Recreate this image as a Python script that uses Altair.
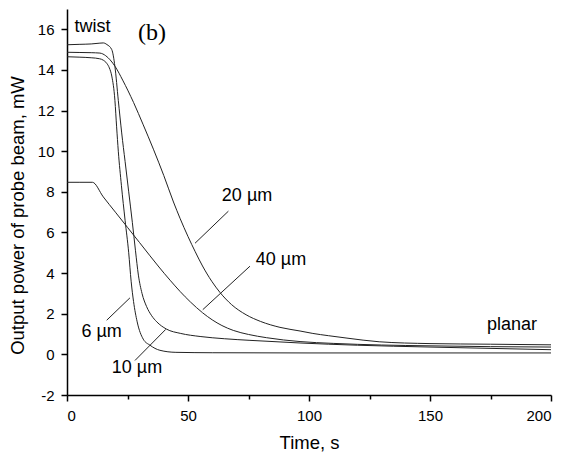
import altair as alt
import pandas as pd

# ---- data ----
t_6 = [0, 5, 10, 13.5, 15, 16.4, 17.5, 18.5, 19.8, 20.5, 21.2, 22.5, 24, 25.5, 26.5, 27.5, 29, 31.5, 34.3, 38.4, 45, 60, 100, 150, 200]
y_6 = [14.65, 14.63, 14.6, 14.55, 14.48, 14.33, 14.1, 13.7, 12.5, 11.2, 10.0, 8.3, 6.6, 5.0, 3.6, 2.6, 1.6, 0.75, 0.45, 0.2, 0.1, 0.08, 0.07, 0.07, 0.07]

t_10 = [0, 5, 10, 13.6, 15, 16.5, 18.5, 19.8, 21.2, 22.6, 24, 25.5, 27, 28.3, 29.5, 31, 32.9, 35, 37.1, 41, 47, 55, 65, 75.6, 96.3, 120, 150, 200]
y_10 = [15.24, 15.26, 15.28, 15.32, 15.33, 15.25, 15.0, 14.17, 12.5, 10.9, 9.5, 8.0, 6.5, 5.1, 3.9, 3.0, 2.35, 1.9, 1.6, 1.25, 1.03, 0.88, 0.77, 0.69, 0.56, 0.45, 0.36, 0.23]

t_20 = [0, 5, 10, 13.6, 16, 17.8, 20, 23, 27.5, 31.5, 35.7, 40, 44, 46.7, 50, 53, 56, 59.8, 63.2, 68, 74, 80, 88, 96.3, 101.6, 108, 115.7, 129, 150, 175, 200]
y_20 = [14.87, 14.86, 14.85, 14.83, 14.7, 14.5, 14.15, 13.5, 12.4, 11.3, 10.1, 8.8, 7.5, 6.7, 5.8, 5.05, 4.35, 3.6, 3.05, 2.45, 1.95, 1.62, 1.33, 1.15, 1.03, 0.92, 0.8, 0.62, 0.53, 0.5, 0.47]

t_40 = [0, 5, 10.5, 15, 20, 25, 30, 34.3, 38, 42.6, 46.7, 51, 56, 60, 64, 68.7, 75, 82.5, 96.3, 110, 130, 150, 175, 200]
y_40 = [8.47, 8.47, 8.47, 7.75, 7.0, 6.25, 5.5, 4.85, 4.3, 3.65, 3.1, 2.58, 2.05, 1.7, 1.42, 1.18, 0.98, 0.82, 0.63, 0.54, 0.46, 0.42, 0.38, 0.36]

series_names = ["6 µm", "10 µm", "20 µm", "40 µm"]

label_text = ["twist", "20 µm", "40 µm", "6 µm", "10 µm", "planar"]
label_x = [10.5, 74.4, 88.4, 14.3, 28.9, 183.9]
label_y = [16.1, 7.8, 4.64, 1.08, -0.69, 1.43]

ptr_x1 = [66.7, 75.6, 26.0, 40.8]
ptr_y1 = [7.05, 4.34, 2.78, 1.23]
ptr_x2 = [52.9, 56.1, 16.4, 28.1]
ptr_y2 = [5.47, 2.2, 1.68, -0.30]

panel_text = ["(b)"]
panel_x = [29.3]
panel_y = [15.8]

x_ticks = [0, 25, 50, 75, 100, 125, 150, 175, 200]
y_ticks = list(range(-2, 18))

# ---- build tables ----
rows = []
for name, ts, ys in zip(series_names, [t_6, t_10, t_20, t_40], [y_6, y_10, y_20, y_40]):
    for t, y in zip(ts, ys):
        rows.append({"series": name, "t": t, "y": y})
df = pd.DataFrame(rows)
labels_df = pd.DataFrame({"text": label_text, "x": label_x, "y": label_y})
ptr_df = pd.DataFrame({"x": ptr_x1, "y": ptr_y1, "x2": ptr_x2, "y2": ptr_y2})
panel_df = pd.DataFrame({"text": panel_text, "x": panel_x, "y": panel_y})

FONT = "Liberation Sans"

xscale = alt.Scale(domain=[0, 200], nice=False)
yscale = alt.Scale(domain=[-2, 17], nice=False, zero=False)

xaxis = alt.Axis(
    title="Time, s",
    values=x_ticks,
    labelExpr="datum.value % 50 === 0 ? datum.label : ''",
    tickSize={"condition": {"test": "datum.value % 50 === 0", "value": 6}, "value": 4},
    grid=False,
    labelPadding=7,
    titlePadding=10,
)
yaxis = alt.Axis(
    title="Output power of probe beam, mW",
    values=y_ticks,
    labelExpr="datum.value % 2 === 0 ? replace(datum.label, '\u2212', '-') : ''",
    tickSize={"condition": {"test": "datum.value % 2 === 0", "value": 6}, "value": 4},
    grid=False,
    labelPadding=7,
    titlePadding=10,
    titleY=206,
)

lines = alt.Chart(df).mark_line(color="#222222", strokeWidth=1, interpolate="monotone", clip=True).encode(
    x=alt.X("t:Q", scale=xscale, axis=xaxis),
    y=alt.Y("y:Q", scale=yscale, axis=yaxis),
    detail="series:N",
)

pointers = alt.Chart(ptr_df).mark_rule(color="#222222", strokeWidth=1).encode(
    x="x:Q", y="y:Q", x2="x2:Q", y2="y2:Q"
)

texts = alt.Chart(labels_df).mark_text(font=FONT, fontSize=18, color="black", align="center", baseline="middle").encode(
    x="x:Q", y="y:Q", text="text:N"
)

panel = alt.Chart(panel_df).mark_text(font="Liberation Serif", fontSize=24, color="black", align="left", baseline="middle").encode(
    x="x:Q", y="y:Q", text="text:N"
)

chart = alt.layer(lines, pointers, texts, panel).properties(
    width=484,
    height=386,
    autosize=alt.AutoSizeParams(type="none"),
    padding={"left": 59, "top": 1, "right": 6, "bottom": 58},
).configure_view(stroke=None).configure_axis(
    domainColor="black",
    domainWidth=1.5,
    tickColor="black",
    tickWidth=1.5,
    labelFont=FONT,
    labelFontSize=15,
    labelColor="black",
    titleFont=FONT,
    titleFontSize=18.5,
    titleFontWeight="normal",
    titleColor="black",
)

chart.save("out.html", embed_options={"renderer": "svg", "actions": False})
